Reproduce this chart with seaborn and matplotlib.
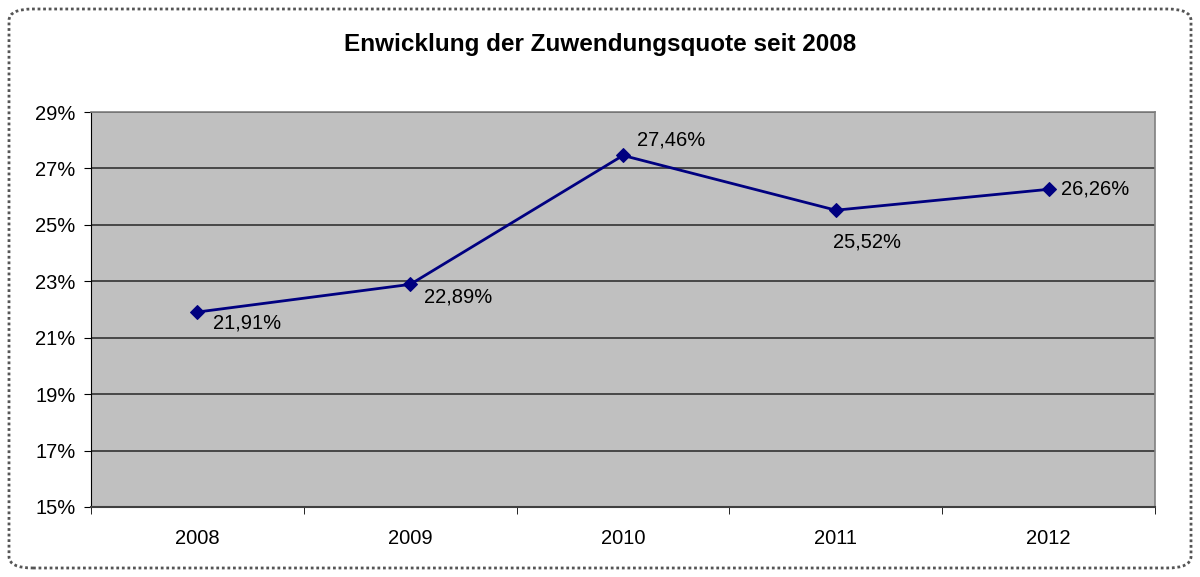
import matplotlib
matplotlib.use("Agg")
import matplotlib.pyplot as plt
import seaborn as sns
import pandas as pd
from matplotlib.patches import FancyBboxPatch
from matplotlib.ticker import FixedLocator, NullFormatter

# data
years = ["2008", "2009", "2010", "2011", "2012"]
quote = [21.91, 22.89, 27.46, 25.52, 26.26]
label_offsets = [(11, -8), (10, -9), (10, 11), (-2, -23), (9, 0)]  # pt offsets of value labels

sns.set_style("white")
plt.rcParams["font.family"] = ["Liberation Sans", "DejaVu Sans"]
plt.rcParams.update({"text.color": "black", "xtick.color": "black", "ytick.color": "black"})

df = pd.DataFrame({"Jahr": years, "Quote": quote})
df["pos"] = range(len(years))

fig = plt.figure(figsize=(12, 5.77), dpi=100)
ax = fig.add_axes([91 / 1200, 70 / 577, (1155 - 91) / 1200, (507 - 112) / 577])
ax.set_facecolor("#C0C0C0")

sns.lineplot(data=df, x="pos", y="Quote", ax=ax, color="#000080", linewidth=2,
             marker="D", markersize=7, markeredgecolor="#000080")

ax.set_xlim(-0.5, len(years) - 0.5)
ax.set_ylim(15, 29)
ax.set_yticks(range(15, 30, 2))
ax.set_yticklabels([f"{v}%" for v in range(15, 30, 2)], fontsize=14.5)
ax.set_xticks(df["pos"])
ax.set_xticklabels(years, fontsize=14.5)
ax.xaxis.set_minor_locator(FixedLocator([i - 0.5 for i in range(len(years) + 1)]))
ax.xaxis.set_minor_formatter(NullFormatter())
ax.tick_params(axis="x", which="major", length=0, pad=16)
ax.tick_params(axis="x", which="minor", length=5, color="black", bottom=True)
ax.tick_params(axis="y", length=5, color="black", left=True, pad=6)
ax.grid(axis="y", color="#333333", linewidth=1.2)
ax.set_axisbelow(True)
ax.set_xlabel("")
ax.set_ylabel("")
for s in ["top", "right"]:
    ax.spines[s].set_color("#808080")
    ax.spines[s].set_linewidth(1.2)
ax.spines["left"].set_color("black")
ax.spines["bottom"].set_color("#404040")
ax.spines["bottom"].set_linewidth(1.5)

for i, (v, off) in enumerate(zip(quote, label_offsets)):
    ax.annotate(f"{v:.2f}%".replace(".", ","), (i, v), xytext=off, textcoords="offset points",
                ha="left", va="center", fontsize=14.5, color="black")

fig.text(0.5, 1 - 45 / 577, "Enwicklung der Zuwendungsquote seit 2008", ha="center", va="center",
         fontsize=17.5, fontweight="bold", color="black")

frame = FancyBboxPatch((9 / 1200, 9 / 577), 1182 / 1200, 559 / 577,
                       boxstyle="round,pad=0,rounding_size=0.02", transform=fig.transFigure,
                       fill=False, edgecolor="#555555", linewidth=2, linestyle=(0, (1, 1)))
fig.patches.append(frame)

fig.savefig("out.png", dpi=100)
